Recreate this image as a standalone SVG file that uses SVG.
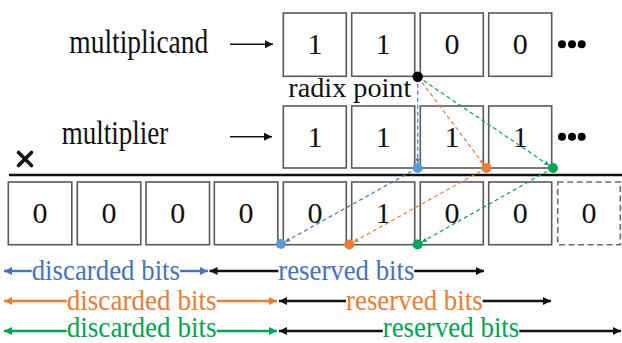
<svg xmlns="http://www.w3.org/2000/svg" width="622" height="343" viewBox="0 0 622 343">
  <style>
    .box { fill: #ffffff; stroke: #595959; stroke-width: 1.6; }
    .ghost { fill: #ffffff; stroke: #6d6d6d; stroke-width: 1.6; stroke-dasharray: 6 3.5; }
    .t { fill: #111111; }
    .digit { font-size: 30px; fill: #111111; text-anchor: middle; }
    .lbl { font-size: 33px; }
    .leg { font-size: 29.5px; }
    .leg-low { font-size: 28.5px; }
    .dash { fill: none; stroke-width: 1.2; stroke-dasharray: 4 3; }
    .span { fill: none; stroke-width: 2.4; }
    .blue { stroke: #4472C4; }
    .orange { stroke: #ED7D31; }
    .green { stroke: #00A651; }
    .black { stroke: #111111; }
  </style>
  <defs>
    <marker id="hBlk" viewBox="0 0 10 10" refX="10" refY="5" markerWidth="9" markerHeight="8" markerUnits="userSpaceOnUse" orient="auto">
      <path d="M0,0 L10,5 L0,10 z" fill="#111111"/>
    </marker>
    <marker id="hBlue" viewBox="0 0 10 10" refX="10" refY="5" markerWidth="9" markerHeight="8" markerUnits="userSpaceOnUse" orient="auto">
      <path d="M0,0 L10,5 L0,10 z" fill="#4472C4"/>
    </marker>
    <marker id="hOrange" viewBox="0 0 10 10" refX="10" refY="5" markerWidth="9" markerHeight="8" markerUnits="userSpaceOnUse" orient="auto">
      <path d="M0,0 L10,5 L0,10 z" fill="#ED7D31"/>
    </marker>
    <marker id="hGreen" viewBox="0 0 10 10" refX="10" refY="5" markerWidth="9" markerHeight="8" markerUnits="userSpaceOnUse" orient="auto">
      <path d="M0,0 L10,5 L0,10 z" fill="#00A651"/>
    </marker>
    <marker id="sBlue" viewBox="0 0 10 10" refX="10" refY="5" markerWidth="5" markerHeight="4.5" markerUnits="userSpaceOnUse" orient="auto">
      <path d="M0,0 L10,5 L0,10 z" fill="#4472C4"/>
    </marker>
    <marker id="sOrange" viewBox="0 0 10 10" refX="10" refY="5" markerWidth="5" markerHeight="4.5" markerUnits="userSpaceOnUse" orient="auto">
      <path d="M0,0 L10,5 L0,10 z" fill="#ED7D31"/>
    </marker>
    <marker id="sGreen" viewBox="0 0 10 10" refX="10" refY="5" markerWidth="5" markerHeight="4.5" markerUnits="userSpaceOnUse" orient="auto">
      <path d="M0,0 L10,5 L0,10 z" fill="#00A651"/>
    </marker>
  </defs>

  <g font-family="Liberation Serif, Times New Roman, DejaVu Serif, serif">
  <!-- operand labels -->
  <g id="multiplicand-label">
    <text class="t lbl" x="69.3" y="53.3" textLength="139" lengthAdjust="spacingAndGlyphs">multiplicand</text>
    <path d="M230,44.3 H273" class="black" stroke-width="1.6" marker-end="url(#hBlk)"/>
  </g>
  <g id="multiplier-label">
    <text class="t lbl" x="61.7" y="144.3" textLength="106.6" lengthAdjust="spacingAndGlyphs">multiplier</text>
    <path d="M230,136.7 H272" class="black" stroke-width="1.6" marker-end="url(#hBlk)"/>
  </g>
  <g id="times-sign">
    <path d="M18.5,152.5 L31.5,165.5 M31.5,152.5 L18.5,165.5" stroke="#111111" stroke-width="3.6" stroke-linecap="round"/>
  </g>

  <!-- multiplicand bits -->
  <g id="multiplicand">
    <rect class="box" x="283.3" y="13" width="63" height="63.3"/>
    <rect class="box" x="351.7" y="13" width="63" height="63.3"/>
    <rect class="box" x="420.3" y="13" width="63" height="63.3"/>
    <rect class="box" x="488.7" y="13" width="63" height="63.3"/>
    <text class="digit" x="315" y="53.8">1</text>
    <text class="digit" x="383.3" y="53.8">1</text>
    <text class="digit" x="452" y="53.8">0</text>
    <text class="digit" x="520.3" y="53.8">0</text>
    <circle cx="562" cy="44.3" r="4"/>
    <circle cx="572" cy="44.3" r="4"/>
    <circle cx="581.7" cy="44.3" r="4"/>
  </g>

  <g id="radix-label">
    <text class="t" font-size="27" x="288.3" y="97" textLength="123" lengthAdjust="spacingAndGlyphs">radix point</text>
  </g>

  <!-- multiplier bits -->
  <g id="multiplier">
    <rect class="box" x="283.3" y="106" width="63" height="62"/>
    <rect class="box" x="351.7" y="106" width="63" height="62"/>
    <rect class="box" x="420.3" y="106" width="63" height="62"/>
    <rect class="box" x="488.7" y="106" width="63" height="62"/>
    <text class="digit" x="315" y="146.8">1</text>
    <text class="digit" x="383.3" y="146.8">1</text>
    <text class="digit" x="452" y="146.8">1</text>
    <text class="digit" x="520.3" y="146.8">1</text>
    <circle cx="562" cy="136.7" r="4"/>
    <circle cx="572" cy="136.7" r="4"/>
    <circle cx="581.7" cy="136.7" r="4"/>
  </g>

  <g id="rule">
    <path d="M9,175 H622" stroke="#111111" stroke-width="2.4"/>
  </g>

  <!-- product bits -->
  <g id="product">
    <rect class="box" x="8.3" y="182" width="63.5" height="62.7"/>
    <rect class="box" x="77.3" y="182" width="63.5" height="62.7"/>
    <rect class="box" x="146" y="182" width="63.5" height="62.7"/>
    <rect class="box" x="214.3" y="182" width="63.5" height="62.7"/>
    <rect class="box" x="283.3" y="182" width="63" height="62.7"/>
    <rect class="box" x="351.7" y="182" width="63" height="62.7"/>
    <rect class="box" x="420.3" y="182" width="63" height="62.7"/>
    <rect class="box" x="488.7" y="182" width="63" height="62.7"/>
    <rect class="ghost" x="557.7" y="182" width="62.6" height="62.7"/>
    <text class="digit" x="40" y="222.7">0</text>
    <text class="digit" x="109" y="222.7">0</text>
    <text class="digit" x="177.7" y="222.7">0</text>
    <text class="digit" x="246" y="222.7">0</text>
    <text class="digit" x="315" y="222.7">0</text>
    <text class="digit" x="383.3" y="222.7">1</text>
    <text class="digit" x="452" y="222.7">0</text>
    <text class="digit" x="520.3" y="222.7">0</text>
    <text class="digit" x="589" y="222.7">0</text>
  </g>

  <!-- radix point shifts -->
  <g id="connectors">
    <path class="dash blue" d="M417.7,76.7 L417.7,163" marker-end="url(#sBlue)"/>
    <path class="dash orange" d="M417.7,76.7 L483.5,164" marker-end="url(#sOrange)"/>
    <path class="dash green" d="M417.7,76.7 L548.9,165.2" marker-end="url(#sGreen)"/>
    <path class="dash blue" d="M417.7,168 L285.4,241.6" marker-end="url(#sBlue)"/>
    <path class="dash orange" d="M486.5,168 L353.7,241.9" marker-end="url(#sOrange)"/>
    <path class="dash green" d="M553,168 L422.1,241.9" marker-end="url(#sGreen)"/>
  </g>

  <g id="points">
    <circle cx="417.7" cy="76.7" r="5.2" fill="#000000"/>
    <circle cx="417.7" cy="168" r="5" fill="#5B9BD5"/>
    <circle cx="486.5" cy="168" r="5" fill="#ED7D31"/>
    <circle cx="553" cy="168" r="5" fill="#00A651"/>
    <circle cx="281" cy="244" r="5" fill="#5B9BD5"/>
    <circle cx="349.3" cy="244.5" r="5" fill="#ED7D31"/>
    <circle cx="417.7" cy="244.5" r="5" fill="#00A651"/>
  </g>

  <!-- bit ranges -->
  <g id="range-blue">
    <path class="span blue" d="M31.7,271 H4" marker-end="url(#hBlue)"/>
    <text class="leg" x="31.7" y="280" fill="#4472C4" textLength="148.3" lengthAdjust="spacingAndGlyphs">discarded bits</text>
    <path class="span blue" d="M180,271 H208" marker-end="url(#hBlue)"/>
    <path class="span black" d="M278.3,271 H209.5" marker-end="url(#hBlk)"/>
    <text class="leg" x="278.3" y="280" fill="#4472C4" textLength="136" lengthAdjust="spacingAndGlyphs">reserved bits</text>
    <path class="span black" d="M414.3,271 H484" marker-end="url(#hBlk)"/>
  </g>
  <g id="range-orange">
    <path class="span orange" d="M66.7,301 H4" marker-end="url(#hOrange)"/>
    <text class="leg" x="66.7" y="310" fill="#ED7D31" textLength="150" lengthAdjust="spacingAndGlyphs">discarded bits</text>
    <path class="span orange" d="M216.7,301 H277" marker-end="url(#hOrange)"/>
    <path class="span black" d="M346,301 H279" marker-end="url(#hBlk)"/>
    <text class="leg" x="346" y="310" fill="#ED7D31" textLength="136.7" lengthAdjust="spacingAndGlyphs">reserved bits</text>
    <path class="span black" d="M482.7,301 H551" marker-end="url(#hBlk)"/>
  </g>
  <g id="range-green">
    <path class="span green" d="M66.7,331 H4" marker-end="url(#hGreen)"/>
    <text class="leg-low" x="66.7" y="336.5" fill="#00A651" textLength="150" lengthAdjust="spacingAndGlyphs">discarded bits</text>
    <path class="span green" d="M216.7,331 H277" marker-end="url(#hGreen)"/>
    <path class="span black" d="M382.7,331 H279" marker-end="url(#hBlk)"/>
    <text class="leg-low" x="382.7" y="336.5" fill="#00A651" textLength="136.6" lengthAdjust="spacingAndGlyphs">reserved bits</text>
    <path class="span black" d="M519.3,331 H621" marker-end="url(#hBlk)"/>
  </g>
  </g>
</svg>
